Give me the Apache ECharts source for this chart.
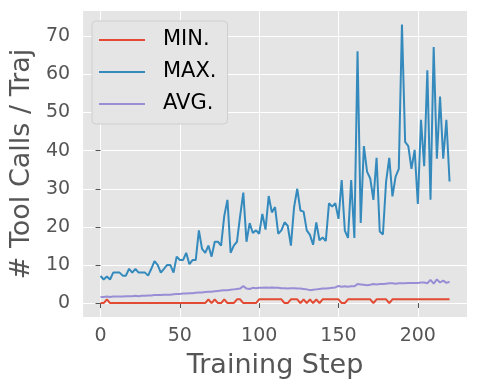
<!DOCTYPE html>
<html>
<head>
<meta charset="utf-8">
<script src="https://cdn.jsdelivr.net/npm/echarts@6.0.0/dist/echarts.min.js"></script>
<style>
  html, body { margin: 0; padding: 0; background: #ffffff; }
  #chart { width: 477px; height: 391px; }
</style>
</head>
<body>
<div id="chart"></div>
<script>
// training-step x positions (one point every 2 steps)
var steps = [
  0, 2, 4, 6, 8, 10, 12, 14, 16, 18, 20, 22, 24, 26, 28, 30, 32, 34, 36, 38,
  40, 42, 44, 46, 48, 50, 52, 54, 56, 58, 60, 62, 64, 66, 68, 70, 72, 74, 76, 78,
  80, 82, 84, 86, 88, 90, 92, 94, 96, 98, 100, 102, 104, 106, 108, 110, 112, 114, 116, 118,
  120, 122, 124, 126, 128, 130, 132, 134, 136, 138, 140, 142, 144, 146, 148, 150, 152, 154, 156, 158,
  160, 162, 164, 166, 168, 170, 172, 174, 176, 178, 180, 182, 184, 186, 188, 190, 192, 194, 196, 198,
  200, 202, 204, 206, 208, 210, 212, 214, 216, 218, 220
];

var minCalls = [
  0, 0, 1, 0, 0, 0, 0, 0, 0, 0, 0, 0, 0, 0, 0, 0, 0, 0, 0, 0,
  0, 0, 0, 0, 0, 0, 0, 0, 0, 0, 0, 0, 0, 0, 1, 0, 1, 0, 0, 1,
  0, 0, 0, 1, 1, 0, 0, 0, 0, 0, 1, 1, 1, 1, 1, 1, 1, 1, 0, 0,
  1, 1, 1, 0, 1, 0, 1, 0, 1, 0, 1, 1, 1, 1, 1, 1, 0, 0, 1, 1,
  1, 1, 1, 1, 1, 1, 0, 1, 1, 1, 1, 0, 1, 1, 1, 1, 1, 1, 1, 1,
  1, 1, 1, 1, 1, 1, 1, 1, 1, 1, 1
];

var maxCalls = [
  7.1, 6.2, 7, 6.2, 8, 8, 8, 7.2, 7.2, 9, 8, 9, 8, 8, 8, 7.2, 9, 11, 10, 8,
  9, 10, 10, 8, 12.2, 11.3, 11.3, 13.2, 10.2, 11.3, 11.3, 19.1, 14.2, 13.2, 15.1, 12.2, 16.1, 16.1, 15.1, 22.9,
  27.1, 13.2, 15.1, 16.1, 22.9, 29, 16.1, 21, 18.4, 19.1, 18.2, 23.4, 19.3, 28.1, 23.8, 25.2, 18.2, 19.1, 21.2, 20.3,
  15.1, 25.2, 30, 24.3, 24, 19.1, 17.9, 15.3, 21.2, 16.5, 17.2, 16.3, 26.2, 25.3, 26.2, 22.1, 32.3, 19, 17.1, 32.3,
  17.1, 66.1, 21, 41.2, 34.5, 32.7, 27.1, 38.1, 18.8, 18, 31.9, 38.1, 28, 33.2, 35.2, 73.1, 42.3, 41.2, 35.2, 40.2,
  26, 48.1, 35.9, 61.1, 27.1, 67.2, 37.9, 54.2, 37.9, 48.1, 31.9
];

var avgCalls = [
  1.6, 1.6, 1.7, 1.6, 1.7, 1.7, 1.7, 1.7, 1.8, 1.8, 1.8, 1.9, 1.8, 1.9, 1.9, 2.0, 2.0, 2.1, 2.1, 2.1,
  2.2, 2.2, 2.2, 2.3, 2.4, 2.4, 2.5, 2.5, 2.6, 2.6, 2.7, 2.8, 2.8, 2.9, 3.0, 3.0, 3.1, 3.2, 3.3, 3.4,
  3.4, 3.5, 3.6, 3.7, 3.8, 4.5, 3.8, 3.7, 4.0, 3.9, 4.0, 4.0, 4.1, 4.0, 4.1, 4.0, 4.0, 3.9, 3.9, 3.8,
  3.9, 3.9, 3.8, 3.8, 3.7, 3.6, 3.4, 3.5, 3.6, 3.7, 3.8, 3.8, 3.9, 4.0, 4.1, 4.5, 4.3, 4.4, 4.3, 4.4,
  4.4, 5.0, 4.9, 4.8, 4.7, 4.8, 5.0, 4.9, 5.0, 5.0, 5.1, 5.2, 5.2, 5.1, 5.2, 5.2, 5.2, 5.3, 5.3, 5.3,
  5.3, 5.4, 5.4, 5.2, 6.1, 5.1, 6.2, 5.4, 5.9, 5.3, 5.6
];

var xTicks = [0, 50, 100, 150, 200];
var yTicks = [0, 10, 20, 30, 40, 50, 60, 70];

(function () {
  var ink = '#555555';
  var panel = '#E5E5E5';
  var font = 'DejaVu Sans';

  function pairs(vals) {
    return steps.map(function (s, i) { return [s, vals[i]]; });
  }

  function line(name, vals, color) {
    return {
      name: name,
      type: 'line',
      data: pairs(vals),
      showSymbol: false,
      symbol: 'none',
      lineStyle: { color: color, width: 2 },
      itemStyle: { color: color },
      emphasis: { disabled: true }
    };
  }

  var chart = echarts.init(document.getElementById('chart'), null, { renderer: 'canvas' });
  chart.setOption({
    animation: false,
    backgroundColor: '#ffffff',
    grid: {
      left: 81, right: 10, top: 11, bottom: 74,
      show: true, backgroundColor: panel, borderWidth: 0
    },
    legend: {
      orient: 'vertical',
      left: 92, top: 21,
      padding: [7, 11, 8, 7],
      backgroundColor: panel,
      borderColor: '#CFCFCF',
      borderWidth: 1,
      borderRadius: 4,
      itemWidth: 46,
      itemHeight: 2,
      itemGap: 8,
      icon: 'rect',
      textStyle: { fontFamily: font, fontSize: 21, color: '#000000', lineHeight: 24, padding: [0, 0, 0, 13] },
      data: ['MIN.', 'MAX.', 'AVG.']
    },
    xAxis: {
      type: 'value',
      min: -11, max: 231,
      name: 'Training Step',
      nameLocation: 'middle',
      nameGap: 35,
      nameTextStyle: { fontFamily: font, fontSize: 27, color: ink },
      axisLine: { show: false },
      axisTick: { show: true, customValues: xTicks, length: 5, lineStyle: { color: ink, width: 1 } },
      axisLabel: { customValues: xTicks, fontFamily: font, fontSize: 19, color: ink, margin: 10 },
      splitLine: { show: true, lineStyle: { color: '#ffffff', width: 1 } }
    },
    yAxis: {
      type: 'value',
      min: -3.65, max: 76.65,
      name: '# Tool Calls / Traj',
      nameLocation: 'middle',
      nameGap: 36,
      nameTextStyle: { fontFamily: font, fontSize: 27, color: ink },
      axisLine: { show: false },
      axisTick: { show: true, customValues: yTicks, length: 5, lineStyle: { color: ink, width: 1 } },
      axisLabel: { customValues: yTicks, fontFamily: font, fontSize: 19, color: ink, margin: 13 },
      splitLine: { show: true, lineStyle: { color: '#ffffff', width: 1 } }
    },
    series: [
      line('MIN.', minCalls, '#E24A33'),
      line('MAX.', maxCalls, '#348ABD'),
      line('AVG.', avgCalls, '#988ED5')
    ]
  });
})();
</script>
</body>
</html>
